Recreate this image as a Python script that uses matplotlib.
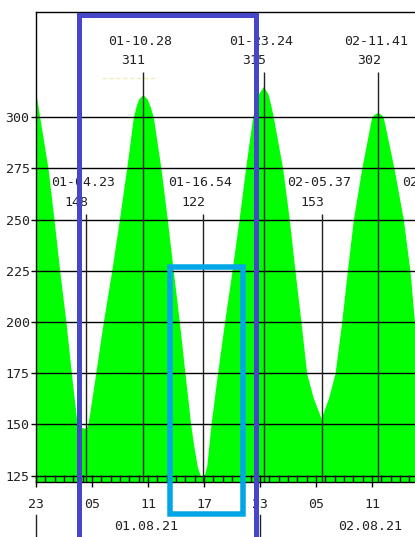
import matplotlib
matplotlib.use('Agg')
import matplotlib.pyplot as plt
from matplotlib.ticker import MultipleLocator
from matplotlib.transforms import blended_transform_factory
from matplotlib.patches import Rectangle

# ---------------- data (hours since 01.08.21 00:00) ----------------
curve_times = [-1.5, -1.0, -0.6, 0.29, 0.93, 1.54, 2.21, 2.79, 3.4, 3.9, 4.38,
               4.6, 5.3, 6.21, 7.11, 7.93, 8.71, 9.43, 9.7, 10.0, 10.45, 10.9,
               11.25, 11.57, 12.39, 13.07, 13.71, 14.36, 14.96, 15.55, 15.85,
               16.3, 16.85, 17.3, 17.75, 18.45, 19.2, 20.0, 20.75, 21.45, 22.21,
               22.5, 22.85, 23.35, 23.85, 24.15, 24.43, 25.43, 26.14, 26.75,
               27.39, 28.0, 28.7, 29.55, 30.35, 31.04, 31.75, 32.36, 33.0,
               33.9, 34.96, 35.2, 35.6, 36.0, 36.21, 37.36, 38.36, 39.07,
               39.55, 40.1, 40.7, 41.4, 41.95, 42.5]
curve_values = [314, 311.7, 300, 275, 250, 225, 200, 175, 150.5, 148.5, 148,
                151, 172, 200, 225, 250, 275, 300, 305, 309, 311, 309,
                305, 300, 275, 250, 225, 200, 175, 151, 141,
                129, 122, 130, 150, 175, 200, 225, 250, 275, 300,
                306, 311.5, 315, 311.5, 306, 300, 275, 250, 225,
                200, 175, 163, 153, 163, 175, 200, 225, 250,
                275, 300, 301.3, 302.3, 301.3, 300, 275, 250, 225,
                200, 175, 150, 132, 126, 130]

event_labels = ["01-04.23", "01-10.28", "01-16.54", "01-23.24",
                "02-05.37", "02-11.41", "02-17.57"]
event_values = [148, 311, 122, 315, 153, 302, 126]
event_kinds = ["low", "high", "low", "high", "low", "high", "low"]

y_ticks = [125, 150, 175, 200, 225, 250, 275, 300]
x_tick_times = [-1, 5, 11, 17, 23, 29, 35]
x_tick_labels = ["23", "05", "11", "17", "23", "05", "11"]
day_labels = ["01.08.21", "02.08.21"]
day_label_times = [11, 35]
day_break_times = [-1, 23]

# ---------------- figure ----------------
W, H = 415, 537
plt.rcParams['font.family'] = ['DejaVu Sans Mono', 'DejaVu Sans']
fig = plt.figure(figsize=(W / 100, H / 100), dpi=100)
ax = fig.add_axes([36 / W, 1 - 482 / H, 1 - 36 / W, 470 / H])

px_per_h = 336 / 36.0
x0 = -1
x1 = x0 + (W - 36) / px_per_h
ymin, ymax = 121.9, 351.4
ax.set_xlim(x0, x1)
ax.set_ylim(ymin, ymax)

GREEN = '#00ff00'
TXT = '#222222'
FS = 9.5

ax.fill_between(curve_times, curve_values, ymin, color=GREEN, lw=0, zorder=1)
ax.axhspan(ymin, 125, color=GREEN, lw=0, zorder=1)
for v in y_ticks:
    ax.axhline(v, color='black', lw=1, zorder=2)

# faint dotted line near first high
ax.plot([6.07, 12.07], [319.2, 319.2], color='#efefb4', lw=1,
        ls=(0, (3, 2)), zorder=2)

# events
for lab, val, kind in zip(event_labels, event_values, event_kinds):
    d = int(lab[:2])
    hh = int(lab[3:5])
    mm = int(lab[6:8])
    t = (d - 1) * 24 + hh + mm / 60.0
    if kind == "high":
        y1, y2, ytop = 336.8, 327.5, 322.1
    else:
        y1, y2, ytop = 268.1, 258.5, 252.8
    ax.vlines(t, ymin, ytop, color='#222222', lw=1, zorder=3)
    ax.annotate(lab, (t, y1), xytext=(-2.7, 0), textcoords='offset pixels',
                ha='center', va='center', fontsize=FS, color=TXT,
                annotation_clip=False, zorder=4)
    ax.annotate(str(val), (t, y2), xytext=(-9.5, 0), textcoords='offset pixels',
                ha='center', va='center', fontsize=FS, color=TXT,
                annotation_clip=False, zorder=4)

# axes styling
for s in ['left', 'top', 'bottom']:
    ax.spines[s].set_color('black')
    ax.spines[s].set_linewidth(1)
    ax.spines[s].set_zorder(5)
ax.spines['right'].set_visible(False)

ax.set_yticks(y_ticks)
ax.set_yticklabels([str(v) for v in y_ticks])
ax.tick_params(axis='y', direction='out', length=3.6, width=1, pad=1,
               labelsize=FS, labelcolor=TXT, color='black')

ax.set_xticks(x_tick_times)
ax.xaxis.set_minor_locator(MultipleLocator(1))
ax.xaxis.remove_overlapping_locs = False
ax.tick_params(axis='x', which='major', direction='out', length=3.6, width=1,
               labelbottom=False, color='black')
ax.tick_params(axis='x', which='minor', direction='in', length=4.7, width=1,
               color='black')

trans = blended_transform_factory(ax.transData, fig.transFigure)
for t, lab in zip(x_tick_times, x_tick_labels):
    ax.text(t, 1 - 505 / H, lab, transform=trans, ha='center', va='center',
            fontsize=FS, color=TXT, clip_on=False)
for t, lab in zip(day_label_times, day_labels):
    ax.text(t - 0.15, 1 - 527 / H, lab, transform=trans, ha='center',
            va='center', fontsize=FS, color=TXT, clip_on=False)
for t in day_break_times:
    ax.plot([t, t], [1 - 515 / H, 0], transform=trans, color='#222222', lw=1,
            clip_on=False)

# overlay rectangles (figure pixel coordinates)
def rect(xa, xb, ya, yb, color, lw_px):
    fig.add_artist(Rectangle((xa / W, 1 - yb / H), (xb - xa) / W, (yb - ya) / H,
                             transform=fig.transFigure, fill=False,
                             ec=color, lw=lw_px * 0.72, zorder=10))

rect(78.5, 255.5, 14.5, 620, '#4646c8', 5)
rect(169.5, 243, 267, 513.5, '#00a6e6', 5.5)

fig.savefig('out.png', dpi=100)
